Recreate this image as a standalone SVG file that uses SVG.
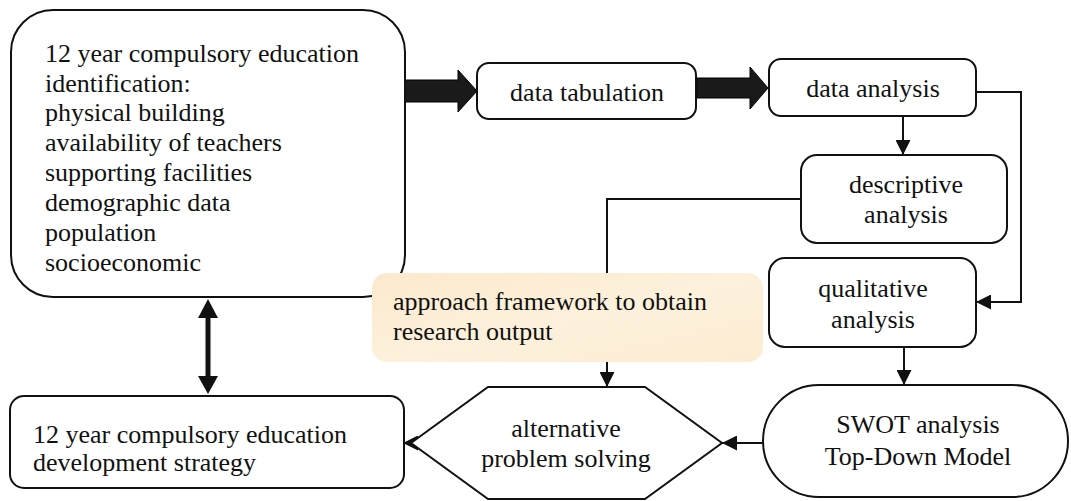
<svg xmlns="http://www.w3.org/2000/svg" width="1071" height="501" viewBox="0 0 1071 501">
  <style>
    .box { fill: #ffffff; stroke: #111111; stroke-width: 2; }
    .t { font-size: 26px; fill: #111111; }
    .c { text-anchor: middle; }
    .line { fill: none; stroke: #111111; stroke-width: 2; }
    .fat { fill: #1a1a1a; stroke: #000000; stroke-width: 1; }
  </style>
  <defs>
    <marker id="arrowMid" viewBox="0 0 10 10" refX="10" refY="5" markerWidth="18" markerHeight="15" markerUnits="userSpaceOnUse" orient="auto">
      <path d="M0,0 L10,5 L0,10 Z" fill="#111111"/>
    </marker>
    <linearGradient id="beige" x1="0" y1="0" x2="1" y2="1">
      <stop offset="0" stop-color="#fbe9cc"/>
      <stop offset="0.5" stop-color="#fdf1dc"/>
      <stop offset="1" stop-color="#fcecd2"/>
    </linearGradient>
  </defs>

  <!-- connectors -->
  <g id="connectors">
    <!-- thick block arrows along the top row -->
    <path class="fat" d="M405,80 L458,80 L458,70 L477,91 L458,112 L458,102 L405,102 Z"/>
    <path class="fat" d="M697,78 L750,78 L750,67 L768,88 L750,109 L750,98 L697,98 Z"/>
    <!-- data analysis to descriptive analysis -->
    <line class="line" x1="903" y1="116" x2="903" y2="155" marker-end="url(#arrowMid)"/>
    <!-- data analysis around to qualitative analysis -->
    <polyline class="line" points="976,92 1021,92 1021,302 976,302" marker-end="url(#arrowMid)"/>
    <!-- descriptive analysis down to alternative problem solving -->
    <polyline class="line" points="801,199 607,199 607,387" marker-end="url(#arrowMid)"/>
    <!-- qualitative analysis to SWOT -->
    <line class="line" x1="904" y1="347" x2="904" y2="385" marker-end="url(#arrowMid)"/>
    <!-- SWOT to alternative problem solving -->
    <line class="line" x1="763" y1="443" x2="722" y2="443" marker-end="url(#arrowMid)"/>
    <!-- alternative problem solving to strategy -->
    <line class="line" x1="422" y1="443" x2="403" y2="443" marker-end="url(#arrowMid)"/>
    <!-- two-way link between identification and strategy -->
    <line x1="208" y1="315" x2="208" y2="379" stroke="#111111" stroke-width="5"/>
    <path d="M208,299 L218,318 L198,318 Z" fill="#111111"/>
    <path d="M208,394 L218,376 L198,376 Z" fill="#111111"/>
  </g>

  <g font-family="Liberation Serif, DejaVu Serif, serif">
  <g id="identification">
    <rect class="box" x="11" y="10" width="394" height="287" rx="42" ry="42"/>
    <text class="t" x="45" y="62">12 year compulsory education</text>
    <text class="t" x="45" y="91.5">identification:</text>
    <text class="t" x="45" y="121">physical building</text>
    <text class="t" x="45" y="151">availability of teachers</text>
    <text class="t" x="45" y="181">supporting facilities</text>
    <text class="t" x="45" y="211">demographic data</text>
    <text class="t" x="45" y="241">population</text>
    <text class="t" x="45" y="271">socioeconomic</text>
  </g>

  <g id="data-tabulation">
    <rect class="box" x="477" y="63" width="219" height="56" rx="12" ry="12"/>
    <text class="t c" x="587" y="101">data tabulation</text>
  </g>

  <g id="data-analysis">
    <rect class="box" x="769" y="59" width="207" height="57" rx="12" ry="12"/>
    <text class="t c" x="873" y="97">data analysis</text>
  </g>

  <g id="descriptive-analysis">
    <rect class="box" x="801" y="155" width="206" height="88" rx="16" ry="16"/>
    <text class="t c" x="906" y="193">descriptive</text>
    <text class="t c" x="906" y="223">analysis</text>
  </g>

  <g id="qualitative-analysis">
    <rect class="box" x="769" y="258" width="207" height="89" rx="16" ry="16"/>
    <text class="t c" x="873" y="297">qualitative</text>
    <text class="t c" x="873" y="328">analysis</text>
  </g>

  <g id="swot">
    <rect class="box" x="763" y="385" width="305" height="112" rx="56" ry="56"/>
    <text class="t c" x="918" y="433">SWOT analysis</text>
    <text class="t c" x="918" y="465">Top-Down Model</text>
  </g>

  <g id="alternative">
    <polygon class="box" points="488,387 645,387 722,443 645,499 488,499 411,443"/>
    <text class="t c" x="566" y="437">alternative</text>
    <text class="t c" x="566" y="467">problem solving</text>
  </g>

  <g id="strategy">
    <rect class="box" x="10" y="396" width="394" height="92" rx="14" ry="14"/>
    <text class="t" x="33" y="443">12 year compulsory education</text>
    <text class="t" x="33" y="471">development strategy</text>
  </g>

  <g id="approach-note">
    <rect x="372" y="273" width="391" height="89" rx="15" ry="15" fill="url(#beige)"/>
    <text class="t" x="393" y="310">approach framework to obtain</text>
    <text class="t" x="393" y="340">research output</text>
  </g>
  </g>
</svg>
